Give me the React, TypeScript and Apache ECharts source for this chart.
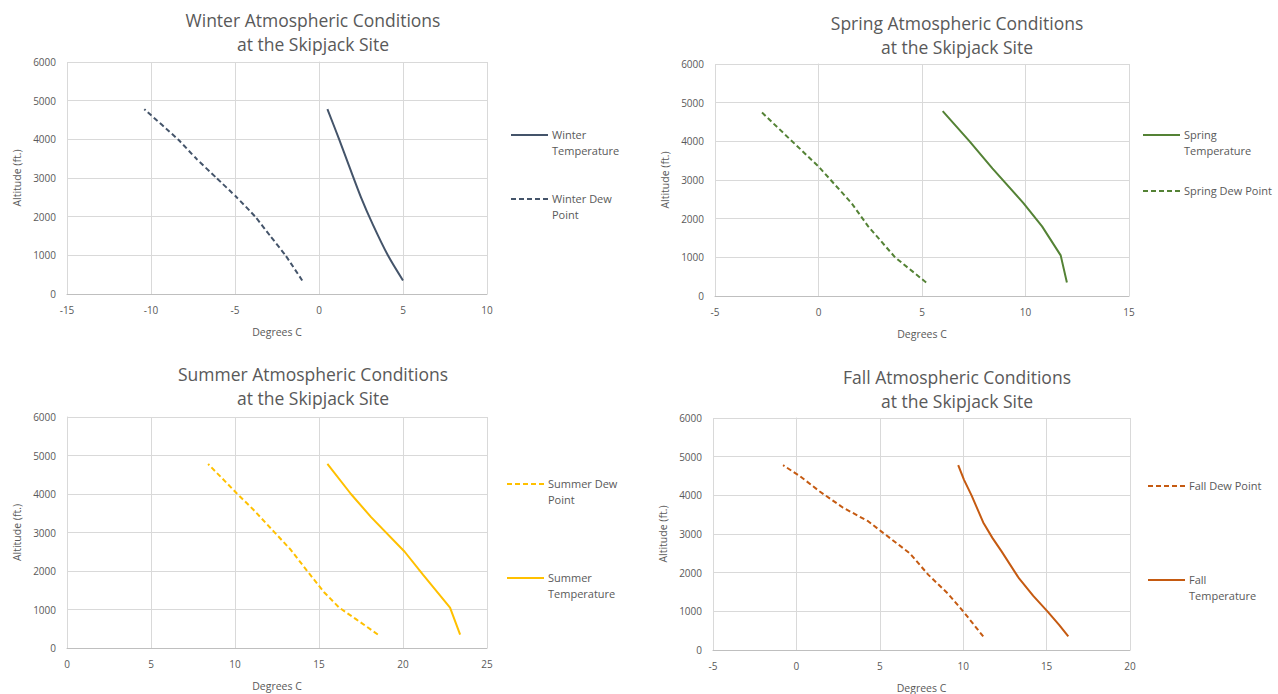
import React, { useEffect, useRef } from "react";
import * as echarts from "echarts";

// ---------- data ----------
const winterTempAlt = [350, 1000, 1800, 2500, 3300, 4000, 4780];
const winterTempC = [5.0, 4.1, 3.2, 2.5, 1.8, 1.2, 0.5];
const winterDewAlt = [350, 1000, 1500, 2000, 2500, 3000, 3500, 4000, 4780];
const winterDewC = [-1.0, -2.0, -2.9, -3.8, -4.9, -6.1, -7.3, -8.4, -10.4];

const springTempAlt = [350, 1050, 1800, 2400, 3300, 4000, 4780];
const springTempC = [12.0, 11.7, 10.8, 9.9, 8.4, 7.3, 6.0];
const springDewAlt = [350, 1000, 1800, 2400, 3350, 4780];
const springDewC = [5.2, 3.7, 2.4, 1.6, 0.0, -2.8];

const summerDewAlt = [350, 750, 1050, 1450, 2000, 2560, 3030, 3590, 4020, 4780];
const summerDewC = [18.5, 17.2, 16.2, 15.3, 14.3, 13.3, 12.3, 11.1, 10.1, 8.4];
const summerTempAlt = [350, 1050, 1900, 2500, 3400, 4000, 4780];
const summerTempC = [23.4, 22.8, 21.2, 20.1, 18.1, 16.9, 15.5];

const fallDewAlt = [350, 1000, 1450, 1950, 2500, 3030, 3330, 3680, 4100, 4500, 4780];
const fallDewC = [11.2, 10.0, 9.1, 7.9, 6.8, 5.2, 4.3, 2.8, 1.4, 0.2, -0.8];
const fallTempAlt = [350, 650, 1000, 1400, 1850, 2550, 2900, 3300, 4000, 4400, 4780];
const fallTempC = [16.3, 15.75, 15.05, 14.2, 13.35, 12.3, 11.75, 11.2, 10.5, 10.05, 9.7];

const panelTitles = [
  "Winter Atmospheric Conditions\nat the Skipjack Site",
  "Spring Atmospheric Conditions\nat the Skipjack Site",
  "Summer Atmospheric Conditions\nat the Skipjack Site",
  "Fall Atmospheric Conditions\nat the Skipjack Site",
];
const xMins = [-15, -5, 0, -5];
const xMaxs = [10, 15, 25, 20];
const yMin = 0;
const yMax = 6000;
const yStep = 1000;
const xStep = 5;
const xAxisTitle = "Degrees C";
const yAxisTitle = "Altitude (ft.)";

const seriesNames = [
  "Winter Temperature", "Winter Dew Point",
  "Spring Temperature", "Spring Dew Point",
  "Summer Dew Point", "Summer Temperature",
  "Fall Dew Point", "Fall Temperature",
];
const legendLabels = [
  "Winter\nTemperature", "Winter Dew\nPoint",
  "Spring\nTemperature", "Spring Dew Point",
  "Summer Dew\nPoint", "Summer\nTemperature",
  "Fall Dew Point", "Fall\nTemperature",
];
const seriesTemps = [winterTempC, winterDewC, springTempC, springDewC, summerDewC, summerTempC, fallDewC, fallTempC];
const seriesAlts = [winterTempAlt, winterDewAlt, springTempAlt, springDewAlt, summerDewAlt, summerTempAlt, fallDewAlt, fallTempAlt];
const seriesPanel = [0, 0, 1, 1, 2, 2, 3, 3];
const seriesDashed = [false, true, false, true, true, false, true, false];
const seriesSmooth = [0.3, 0.2, 0, 0, 0, 0, 0, 0];

// ---------- styling / layout ----------
const panelColors = ["#44546A", "#548235", "#FFC000", "#C55A11"];
const grids = [
  { left: 67, top: 62, width: 420, height: 232 },
  { left: 715, top: 64, width: 414, height: 232 },
  { left: 67, top: 417, width: 420, height: 231 },
  { left: 713, top: 418, width: 417, height: 233 },
];
const titlePos = [
  { x: 313, y: 8 },
  { x: 957, y: 11 },
  { x: 313, y: 362 },
  { x: 957, y: 365 },
];
const legendPos = [
  { x: 511, y: 135 }, { x: 511, y: 199 },
  { x: 1143, y: 135 }, { x: 1143, y: 191 },
  { x: 507, y: 484 }, { x: 507, y: 578 },
  { x: 1148, y: 486 }, { x: 1148, y: 580 },
];
const FONT = '"Open Sans", "Noto Sans", sans-serif';
const TXT = "#595959";

export default function App() {
  const ref = useRef<HTMLDivElement>(null);
  useEffect(() => {
    if (!ref.current) return;
    const chart = echarts.init(ref.current, undefined, { renderer: "svg" });

    const xAxis = grids.map((_, i) => ({
      type: "value",
      gridIndex: i,
      min: xMins[i],
      max: xMaxs[i],
      interval: xStep,
      name: xAxisTitle,
      nameLocation: "middle",
      nameGap: 32,
      nameTextStyle: { color: TXT, fontSize: 10.5, fontFamily: FONT },
      axisLine: { show: true, lineStyle: { color: "#BFBFBF", width: 1 } },
      axisTick: { show: false },
      axisLabel: { color: TXT, fontSize: 10, fontFamily: FONT, margin: 11, formatter: (v: number) => String(v) },
      splitLine: { show: true, lineStyle: { color: "#D9D9D9", width: 1 } },
    }));
    const yAxis = grids.map((_, i) => ({
      type: "value",
      gridIndex: i,
      min: yMin,
      max: yMax,
      interval: yStep,
      name: yAxisTitle,
      nameLocation: "middle",
      nameGap: 45,
      nameRotate: 90,
      nameTextStyle: { color: TXT, fontSize: 10.5, fontFamily: FONT },
      axisLine: { show: true, lineStyle: { color: "#D9D9D9", width: 1 } },
      axisTick: { show: false },
      axisLabel: { color: TXT, fontSize: 10, fontFamily: FONT, margin: 11, formatter: (v: number) => String(v) },
      splitLine: { show: true, lineStyle: { color: "#D9D9D9", width: 1 } },
    }));

    const series = seriesNames.map((name, k) => {
      const p = seriesPanel[k];
      return {
        name,
        type: "line",
        xAxisIndex: p,
        yAxisIndex: p,
        showSymbol: false,
        symbol: "none",
        smooth: seriesSmooth[k] || false,
        data: seriesTemps[k].map((t, j) => [t, seriesAlts[k][j]]),
        lineStyle: {
          color: panelColors[p],
          width: 2,
          type: seriesDashed[k] ? [5, 3] : "solid",
        },
        itemStyle: { color: panelColors[p] },
      };
    });

    const graphic: any[] = [];
    panelTitles.forEach((t, i) => {
      graphic.push({
        type: "text",
        x: titlePos[i].x,
        y: titlePos[i].y,
        style: {
          text: t,
          fill: TXT,
          font: `17.5px ${FONT}`,
          lineHeight: 24,
          align: "center",
          verticalAlign: "top",
        },
      });
    });
    legendLabels.forEach((lab, k) => {
      const p = seriesPanel[k];
      const lp = legendPos[k];
      graphic.push({
        type: "line",
        shape: { x1: lp.x, y1: lp.y, x2: lp.x + 37, y2: lp.y },
        style: {
          stroke: panelColors[p],
          lineWidth: 2,
          lineDash: seriesDashed[k] ? [5, 3] : null,
        },
      });
      graphic.push({
        type: "text",
        x: lp.x + 41,
        y: lp.y - 8.5,
        style: {
          text: lab,
          fill: TXT,
          font: `11px ${FONT}`,
          lineHeight: 16,
          align: "left",
          verticalAlign: "top",
        },
      });
    });

    chart.setOption({
      animation: false,
      backgroundColor: "#FFFFFF",
      grid: grids,
      xAxis,
      yAxis,
      series,
      graphic,
    });
    return () => chart.dispose();
  }, []);
  return (
    <div
      ref={ref}
      style={{ position: "fixed", left: 0, top: 0, width: 1278, height: 694, background: "#fff" }}
    />
  );
}
